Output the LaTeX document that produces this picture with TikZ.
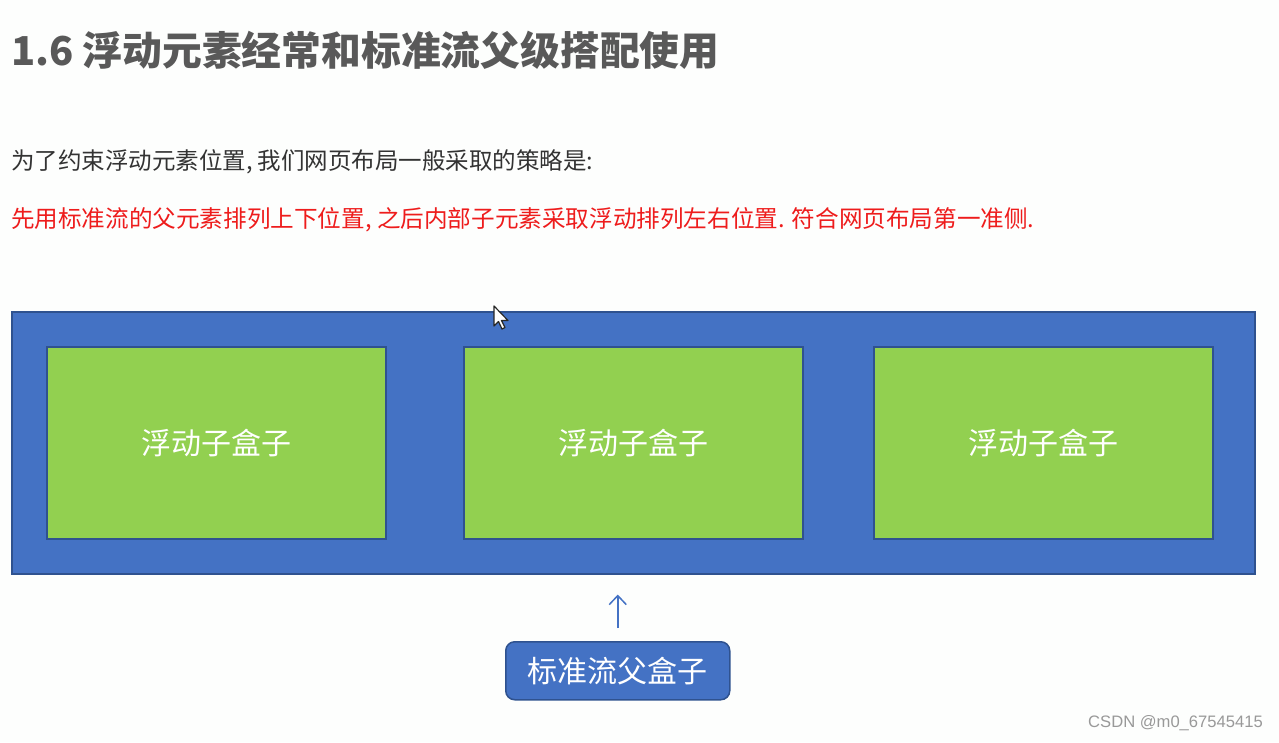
\documentclass[tikz,border=0pt]{standalone}
\usepackage{fontspec}
\setmainfont{Noto Sans CJK SC}
\newfontfamily\wmfont{Liberation Sans}
\usetikzlibrary{arrows.meta}
\definecolor{bgc}{HTML}{FDFEFD}
\definecolor{titlec}{HTML}{595959}
\definecolor{textc}{HTML}{333333}
\definecolor{redc}{HTML}{EE1C1C}
\definecolor{bluef}{HTML}{4472C4}
\definecolor{blued}{HTML}{2F528F}
\definecolor{greenf}{HTML}{92D050}
\tikzset{
  txt/.style={anchor=west, inner sep=0pt},
  parentbox/.style={draw=blued, fill=bluef, line width=1.5pt, inner sep=0pt},
  childbox/.style={draw=blued, fill=greenf, line width=1.5pt, inner sep=0pt,
    minimum width=339pt, minimum height=192pt, anchor=north west,
    text=white, font=\fontsize{30}{34}\selectfont},
  labelbox/.style={draw=blued, fill=bluef, line width=1.5pt, rounded corners=9pt,
    minimum width=224pt, minimum height=58pt, anchor=north west,
    text=white, font=\fontsize{30}{34}\selectfont},
  conn/.style={draw=bluef, line width=1.5pt, -{Straight Barb[length=9pt,width=17pt]}}
}
\begin{document}
\begin{tikzpicture}[x=1pt,y=-1pt]
\fill[bgc] (0,0) rectangle (1279,742);
\useasboundingbox (0,0) rectangle (1279,742);
\node[txt, text=titlec, font=\fontsize{39.8}{44}\selectfont\bfseries] (title) at (11,50) {1.6 浮动元素经常和标准流父级搭配使用};
\node[txt, text=textc, font=\fontsize{23.5}{27}\selectfont] (line1) at (11,162) {为了约束浮动元素位置, 我们网页布局一般采取的策略是:};
\node[txt, text=redc, font=\fontsize{23.6}{27}\selectfont] (line2) at (11,220) {先用标准流的父元素排列上下位置, 之后内部子元素采取浮动排列左右位置. 符合网页布局第一准侧.};
\node[parentbox, minimum width=1243pt, minimum height=262pt, anchor=north west] (outer) at (11,311) {};
\node[childbox] (c1) at (46,346) {浮动子盒子};
\node[childbox] (c2) at (463,346) {浮动子盒子};
\node[childbox] (c3) at (873,346) {浮动子盒子};
\node[labelbox] (parent) at (505,641) {标准流父盒子};
\draw[conn, shorten <=13pt, shorten >=20pt] (parent.north) -- (parent.north |- outer.south);
\node[txt, text=gray!80, font=\wmfont\fontsize{16.6}{19}\selectfont] (wm) at (1088,723) {CSDN @m0\_67545415};
% mouse cursor
\coordinate (cur) at (494,306);
\draw[fill=white, draw=black!85, line width=1.2pt, line join=round]
  (cur) -- ++(0,20) -- ++(4.5,-4.5) -- ++(3.5,7.5) -- ++(3,-1.5) -- ++(-3.5,-7) -- ++(6.5,0) -- cycle;
\end{tikzpicture}
\end{document}
